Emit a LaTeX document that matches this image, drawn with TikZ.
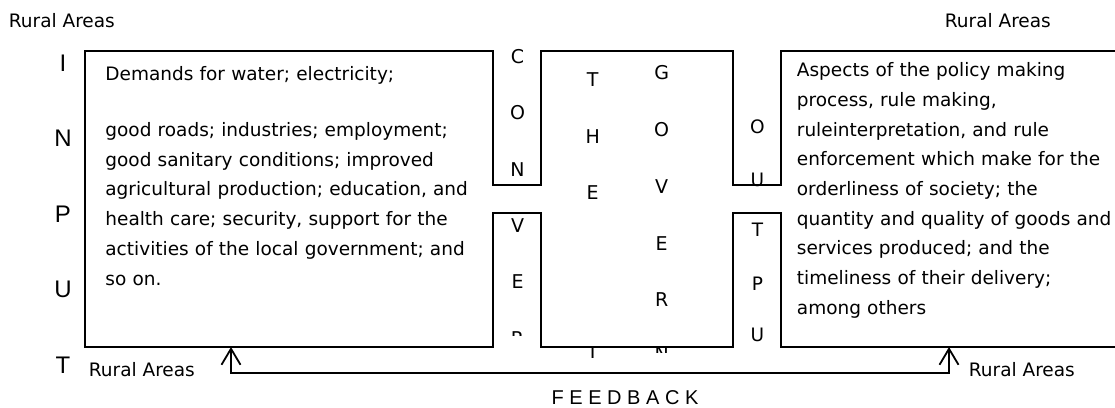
\documentclass[tikz,border=0pt]{standalone}
\usepackage{fontspec}
\setmainfont{DejaVu Sans}
\newfontfamily\arialfont{Liberation Sans}
\usepackage{tikz}
\usetikzlibrary{arrows.meta}

\begin{document}
\begin{tikzpicture}[x=1pt, y=-1pt, line width=1.8pt, >={Straight Barb[length=16pt,width=19pt]}]
\useasboundingbox (0,0) rectangle (1115,407);
\tikzstyle{every node} = [inner sep=0pt, font=\fontsize{18.5}{29.7}\selectfont]
\tikzstyle{bigletter} = [font=\fontsize{19}{19}\selectfont]
\tikzstyle{inletter} = [font=\arialfont\fontsize{24}{24}\selectfont]
\draw[line join=miter] (1117,51) -- (781,51) -- (781,185) -- (733,185) -- (733,51)
	-- (541,51) -- (541,185) -- (493,185) -- (493,51) -- (85,51) -- (85,347)
	-- (493,347) -- (493,213) -- (541,213) -- (541,347) -- (733,347)
	-- (733,213) -- (781,213) -- (781,347) -- (1117,347);
\node[anchor=base west] (rtl) at (8,27) {Rural Areas};
\node[anchor=base west] (rtr) at (944,27) {Rural Areas};
\node[anchor=base west] (rbl) at (88,376.7) {Rural Areas};
\node[anchor=base west] (rbr) at (968,376.7) {Rural Areas};
\foreach \l [count=\k] in {I,N,P,U,T}
	\node[inletter] (in\k) at (63,{63+75.5*(\k-1)}) {\l};
\node[anchor=base west, text width=395pt, align=left] (demands) at (104.5,80.7)
	{Demands for water; electricity;\\[26.1pt]
	good roads; industries; employment;\\
	good sanitary conditions; improved\\
	agricultural production; education, and\\
	health care; security, support for the\\
	activities of the local government; and\\
	so on.};
\foreach \l [count=\k] in {C,O,N,V,E}
	\node[bigletter] (cv\k) at (517.5,{56.7+56.3*(\k-1)}) {\l};
\begin{scope}
\clip (493,320) rectangle (541,335);
\node[bigletter] (cv6) at (517.5,339) {R};
\end{scope}
\foreach \l [count=\k] in {T,H,E}
	\node[bigletter] (the\k) at (592.7,{80+56.5*(\k-1)}) {\l};
\begin{scope}
\clip (570,347) rectangle (615,357);
\node[bigletter] (the4) at (592.7,352.5) {T};
\end{scope}
\foreach \l [count=\k] in {G,O,V,E,R}
	\node[bigletter] (gov\k) at (661.7,{73+56.7*(\k-1)}) {\l};
\begin{scope}
\clip (640,347) rectangle (685,352);
\node[bigletter] (gov6) at (661.7,353.5) {N};
\end{scope}
\node (out1) at (757.5,126.7) {O};
\node (out2) at (757.5,180) {U};
\node (out3) at (757.5,230) {T};
\node (out4) at (757.5,284) {P};
\node (out5) at (757.5,335) {U};
\node[anchor=base west, text width=330pt, align=left] (aspects) at (796,76.7)
	{Aspects of the policy making\\
	process, rule making,\\
	ruleinterpretation, and rule\\
	enforcement which make for the\\
	orderliness of society; the\\
	quantity and quality of goods and\\
	services produced; and the\\
	timeliness of their delivery;\\
	among others};
\coordinate (fbin) at (231,347);
\coordinate (fbout) at (949,347);
\draw[<->] (fbin) -- ++(0,26) -| (fbout);
\node[anchor=base, font=\arialfont\fontsize{20}{20}\selectfont] (feedback) at (625,404) {F E E D B A C K};
\end{tikzpicture}
\end{document}
